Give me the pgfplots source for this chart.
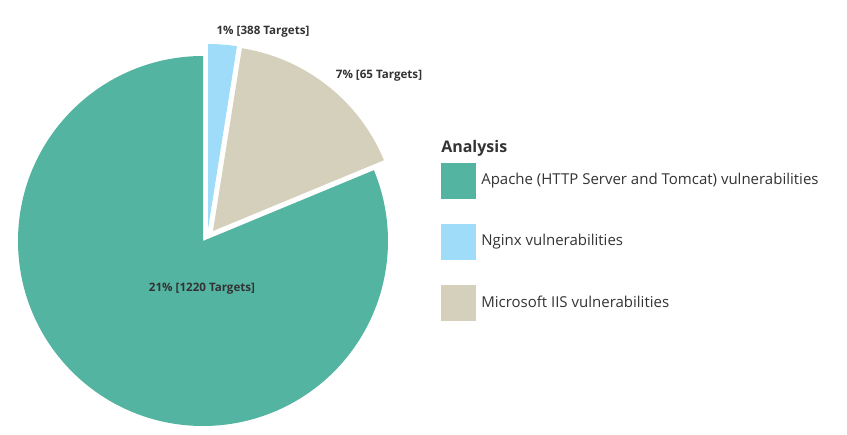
\documentclass[border=0pt]{standalone}
\usepackage{pgfplots}
\usepackage{pgfplotstable}
\usepackage{fontspec}
\setmainfont{Open Sans}
\pgfplotsset{compat=1.18}
\definecolor{apache}{RGB}{84,180,162}
\definecolor{nginx}{RGB}{158,220,250}
\definecolor{iis}{RGB}{213,208,188}
\definecolor{txt}{RGB}{51,51,51}
\pgfplotstableread{
slice value dx dy
Apache 81.25 0 0
IIS 16.25 10 10
Nginx 2.5 5 12
}\piedata
\begin{document}
\begin{tikzpicture}
\pgfplotstablegetelem{0}{value}\of\piedata \let\vA\pgfplotsretval
\pgfplotstablegetelem{1}{value}\of\piedata \let\vB\pgfplotsretval
\pgfplotstablegetelem{2}{value}\of\piedata \let\vC\pgfplotsretval
\pgfplotstablegetelem{1}{dx}\of\piedata \let\dxB\pgfplotsretval
\pgfplotstablegetelem{1}{dy}\of\piedata \let\dyB\pgfplotsretval
\pgfplotstablegetelem{2}{dx}\of\piedata \let\dxC\pgfplotsretval
\pgfplotstablegetelem{2}{dy}\of\piedata \let\dyC\pgfplotsretval
\pgfmathsetmacro\aAs{90}
\pgfmathsetmacro\aAe{\aAs+3.6*\vA}
\pgfmathsetmacro\aBe{\aAe+3.6*\vB}
\pgfmathsetmacro\aCe{\aBe+3.6*\vC}
\pgfmathsetmacro\cBx{203+\dxB}
\pgfmathsetmacro\cBy{194+\dyB}
\pgfmathsetmacro\cCx{203+\dxC}
\pgfmathsetmacro\cCy{194+\dyC}
\def\R{138.75pt}
\begin{axis}[x=0.75pt, y=0.75pt, xmin=0, xmax=847, ymin=0, ymax=435,
  hide axis, clip=false]
\path (axis cs:0,0) rectangle (axis cs:847,435);
\fill[apache] (axis cs:203,194) -- ++(\aAs:\R) arc[start angle=\aAs, end angle=\aAe, radius=\R] -- cycle;
\fill[iis] (axis cs:\cBx,\cBy) -- ++(\aAe:\R) arc[start angle=\aAe, end angle=\aBe, radius=\R] -- cycle;
\fill[nginx] (axis cs:\cCx,\cCy) -- ++(\aBe:\R) arc[start angle=\aBe, end angle=\aCe, radius=\R] -- cycle;
\node[font=\fontsize{8.7pt}{10pt}\selectfont\bfseries, text=txt] at (axis cs:202,146) {21\% [1220 Targets]};
\node[font=\fontsize{8.7pt}{10pt}\selectfont\bfseries, text=txt] at (axis cs:263,403) {1\% [388 Targets]};
\node[font=\fontsize{8.7pt}{10pt}\selectfont\bfseries, text=txt] at (axis cs:379,359) {7\% [65 Targets]};
% legend
\node[font=\fontsize{12pt}{14pt}\selectfont\bfseries, text=txt, anchor=west, inner sep=0pt] at (axis cs:441,287) {Analysis};
\fill[apache] (axis cs:441,272) rectangle (axis cs:476,236);
\fill[nginx] (axis cs:441,211) rectangle (axis cs:476,175);
\fill[iis] (axis cs:441,150) rectangle (axis cs:476,114);
\node[font=\fontsize{11.25pt}{13pt}\selectfont, text=txt, anchor=west, inner sep=0pt] at (axis cs:481,254) {Apache (HTTP Server and Tomcat) vulnerabilities};
\node[font=\fontsize{11.25pt}{13pt}\selectfont, text=txt, anchor=west, inner sep=0pt] at (axis cs:481,193) {Nginx vulnerabilities};
\node[font=\fontsize{11.25pt}{13pt}\selectfont, text=txt, anchor=west, inner sep=0pt] at (axis cs:481,133) {Microsoft IIS vulnerabilities};
\end{axis}
\end{tikzpicture}
\end{document}
